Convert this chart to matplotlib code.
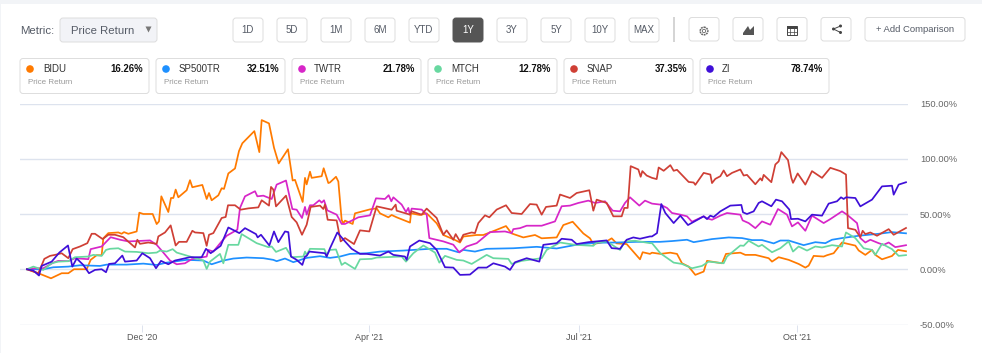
#!/usr/bin/env python
"""
Total return comparison, one year
"""
import matplotlib
matplotlib.use("Agg")
import matplotlib.pyplot as plt
from matplotlib.patches import FancyBboxPatch, Rectangle, Circle, Polygon

plt.rcParams['font.family'] = ['Liberation Sans', 'DejaVu Sans']

# x is trading sessions since the start of the window, y is price return in %
bidu_x = [0, 3.9, 7.2, 10.4, 12.4, 14.1, 17.9, 19.1, 20.9, 22.4, 22.9, 24.4, 27.4, 28.4, 29.1, 30.4, 32.9, 33.7, 34.9, 37.7,
          38.9, 39.6, 40.3, 42.4, 43.2, 43.9, 44.6, 45.4, 47.9, 48.9, 49.6, 52.6, 53.9, 54.6, 55.4, 57.4, 58.4, 59.1, 60.4, 62.4,
          63.6, 64.6, 68.2, 69.7, 70.4, 72.6, 74.1, 75.5, 78.3, 79.7, 80.4, 82.7, 83.4, 83.9, 84.9, 85.4, 88.4, 89, 90.4, 90.9,
          92.7, 93.4, 94.4, 94.9, 95.4, 97.7, 98.4, 102.9, 104.9, 105.9, 108.4, 109.4, 110.9, 114.9, 115.2, 117.9, 119.9, 122.9,
          124.9, 128.4, 129.9, 130.9, 134.9, 136.9, 139.9, 143.7, 145.4, 148.9, 152.4, 154.4, 158.9, 160.9, 163.7, 166.9, 168.9,
          169.9, 173.9, 175.4, 176.9, 179.9, 183.9, 184.7, 186.9, 187.5, 190, 193, 195, 196.5, 198.5, 200.5, 203, 204, 208.5,
          209.7, 214, 215.5, 218.5, 222.5, 223.5, 225.5, 228.5, 231.5, 233.5, 234.5, 236, 239, 240, 242, 244.5, 248.5, 249.5,
          251.5, 253.5, 254.5, 256.5, 259.5, 261.3, 263.7]
bidu_y = [0, -4.2, -8.2, -3.6, -3.6, 0, 0, 8.5, 12.7, 12.7, 28, 32.7, 33.3, 32.1, 33.6, 32.1, 34.2, 51.2, 50, 50,
          40.9, 43.3, 66, 51.8, 64.5, 64.5, 72.1, 65.1, 71.5, 80.6, 74.2, 76.3, 63.6, 69, 62.4, 66.9, 73.3, 72.7, 86.7, 91.2,
          107, 114, 125, 106, 135, 132, 110, 95.8, 108.6, 80.3, 80.9, 60.9, 82.7, 76.8, 88.3, 82.7, 84.2, 91.4, 78, 78.6,
          83.7, 79.4, 44.6, 41.6, 44, 41, 50.6, 54.2, 55.1, 50.6, 47, 49.1, 47, 42.2, 50.6, 49.1, 50.6, 41.6,
          31, 26.5, 24.2, 29.6, 31, 31, 34.5, 39.1, 32.4, 28.8, 31, 28, 28.8, 40, 43, 32.4, 28,
          22.8, 25.2, 28, 23.4, 22.8, 9, 15.4, 13.9, 15, 13.9, 15, 13.9, 5.4, 2.4, -5.1, -2.1, 7.6, 5.4,
          13.9, 15, 13, 13, 10, 6.9, 10.9, 8.5, 4.8, 1.5, 3.3, 12.1, 11.5, 12.7, 14.5, 24.2, 21.4, 17,
          13, 17.5, 13, 9, 12, 17.5, 16.26]

sp500_x = [0, 4.9, 7.9, 12.4, 15.9, 21.9, 23.9, 29.9, 34.9, 38.9, 41.9, 47.9, 52.9, 55.4, 58.9, 61.9, 65.9, 70.9, 73.9, 74.9,
           77.4, 79.9, 83.9, 87.9, 90.9, 93.9, 96.9, 101.9, 105.9, 112.9, 120.9, 125.9, 129.4, 130.9, 134.4, 137.9, 145.9, 152.9,
           158.9, 164.9, 170.9, 176.9, 182.9, 189.9, 193.5, 198, 200, 205.5, 210.5, 214.5, 217.5, 220.5, 224, 226, 228.5, 233,
           236.5, 239.5, 241.5, 244.5, 249.5, 255.5, 259.5, 263.7]
sp500_y = [0, 0, 1.8, 2.4, 3.6, 3, 4.2, 4.2, 5.1, 3.9, 6, 8.5, 7.9, 4.5, 7.9, 9.7, 10.6, 10, 8.5, 7.3,
           9.7, 6.4, 10.3, 11.8, 10.3, 11.5, 13.9, 14.5, 16, 16.9, 18.5, 18.5, 15.4, 17.5, 16, 18.5, 19, 20.3,
           18.8, 22.2, 24, 24.2, 24.8, 24.8, 25.5, 26.7, 24.5, 27.3, 28.8, 28.2, 26.4, 26.4, 23.4, 26, 26, 21.8,
           24.5, 23.6, 26.7, 28.2, 30.3, 32.1, 33.6, 32.51]

twtr_x = [0, 2.4, 4.9, 7.9, 9.4, 12.4, 14.4, 18.4, 19.1, 22.4, 23.9, 25.1, 27.9, 30.4, 32.9, 36.9, 38.9, 40.9, 42.9, 44.9,
          47.4, 49.4, 52.9, 53.9, 54.4, 55.9, 58.4, 59.9, 63.1, 63.9, 65.4, 68.4, 69.1, 70.9, 73.4, 74.9, 77.7, 79.6, 80.9, 82.5,
          83.4, 83.9, 84.9, 85.9, 87.7, 88.4, 89.1, 90.1, 92.9, 94.4, 95.4, 99.4, 102.9, 104.7, 107.4, 108.5, 109.3, 109.9, 112.4,
          113.7, 114.4, 114.9, 115.4, 118.4, 119.9, 120.7, 124.9, 127.9, 129.7, 131.9, 134.9, 138.9, 143.4, 145.4, 145.9, 147.9,
          149.9, 154.4, 158.4, 160.4, 162.9, 165.4, 168.4, 170.4, 173.4, 175.7, 177.9, 179.4, 180.9, 183.7, 185.4, 187.5, 190, 192,
          193.5, 196, 198, 199.5, 203, 204, 205.5, 208, 210, 214, 214.7, 216.5, 218.5, 220.5, 223, 225.3, 228, 229.5, 231.3,
          233.5, 235.5, 239, 241, 244.5, 246, 249, 250, 251.5, 253, 255.5, 257, 258.5, 260.5, 263.7]
twtr_y = [0, 0.9, 0.9, 6, 7.6, 7.3, 10, 9.1, 18.2, 20.6, 25.2, 29, 26.7, 25.2, 25.5, 26.1, 22.1, 15.1, 7.9, 4.5,
          5.4, 9.1, 10.9, 11.5, 17.5, 16, 25.2, 30.3, 35.8, 55.5, 66, 70.6, 66, 66.6, 63.6, 76.6, 80.3, 54.5, 53.9, 46.4,
          56.4, 49.4, 57.9, 57.9, 62.4, 60.3, 62.4, 53.3, 49.4, 41, 41, 47, 48.8, 64.2, 63.6, 67, 61.5, 65.1, 58.5,
          51.8, 55.5, 49.4, 54.9, 54, 49.4, 28.2, 25.2, 22.2, 15.2, 20.6, 23.6, 33.6, 34.2, 32.7, 36.3, 37.2,
          39.4, 39.4, 43.3, 57, 57.6, 60, 62.1, 60, 61.5, 53, 52.4, 60, 65.1, 57.6, 62.1, 59.4, 58.5, 55.5,
          50.9, 49.4, 47.9, 43, 47.9, 46, 44.8, 48.5, 50.9, 49.4, 44.2, 41.8, 37.2, 43.3, 40.3, 54.5, 49.4, 38.8, 42.4,
          34.8, 48.5, 41.8, 45.4, 52.4, 49.4, 41.8, 28.2, 24.2, 26.7, 23.6, 22.1, 24.2, 20, 21.78]

mtch_x = [0, 1.9, 4.9, 7.4, 9.4, 12.4, 14.4, 18.4, 19.9, 22.4, 23.7, 24.9, 27.4, 29.4, 32.9, 36.4, 38.9, 39.9, 41.9, 43.7,
          44.9, 48.9, 52.9, 53.9, 54.9, 57.9, 58.9, 60.4, 63.4, 64.4, 68.9, 72.4, 73.4, 74.7, 77.7, 79.4, 82.9, 83.4, 83.9, 84.9,
          89.2, 89.9, 90.9, 92.7, 94.4, 95.4, 98.4, 99.9, 103.4, 104.9, 112.4, 113.7, 115.9, 118.9, 122.4, 123.7, 125.4, 128.9,
          130.9, 133.4, 137.9, 139.9, 144.4, 145.4, 148.4, 154.4, 155.9, 159.9, 164.4, 169.9, 170.9, 173.9, 177.9, 179.4, 182.4,
          186.9, 187.5, 190, 194, 196.5, 199.5, 202.5, 204.5, 209, 210, 214, 215, 216.5, 219.5, 220.5, 223.5, 226, 228.5, 229.8,
          231.5, 234, 236.5, 238.5, 241.5, 244.5, 245.7, 248.5, 251, 253.5, 254.5, 256.5, 259.5, 261.5, 263.7]
mtch_y = [0, 2.4, -0.6, 5.4, 6.9, 7.3, 10.9, 11.5, 13, 12.1, 17.5, 18.5, 19, 16, 15.7, 14.5, 15.1, 16.9, 16, 18.2,
          15.1, 11.5, 7.9, 0.3, 6.9, 13.9, 5.4, 22.1, 22.1, 31.8, 23.6, 20, 20.6, 15.7, 19.4, 10.9, 11.5, 16, 13, 18.5,
          18.2, 13, 17.5, 17.9, 3.9, 6, 0.3, 9, 9.4, 10.6, 11.5, 6.9, 14.5, 21.5, 15.1, 6, 12.1, 8.5,
          7.9, 4.8, 13, 10, 9.4, 4.8, 7.6, 10, 17.5, 24.2, 22.1, 21.2, 24.2, 25.2, 17.5, 25.2, 25.8,
          23.6, 23.6, 14.5, 6, 4.8, 0.9, 3, 6.9, 5.4, 11.5, 21.5, 21.2, 25.8, 20.6, 22.1, 15.4, 19, 25.2, 16,
          20.6, 16.9, 20.6, 19.7, 21.8, 20.6, 33.3, 28.2, 19, 17.5, 13, 23, 18.2, 12.1, 12.78]

snap_x = [0, 3.4, 5.2, 6.9, 8.4, 10.4, 12.4, 13.7, 15.9, 18.1, 19.4, 20.4, 22.7, 24.4, 26.4, 28.9, 32.4, 33.1, 33.9, 36.4,
          38.9, 39.4, 41.4, 43.1, 44.6, 45.6, 47.9, 49.6, 50.4, 52.9, 53.9, 54.6, 55.9, 58.4, 59.6, 60.3, 62.4, 64.1, 66.4, 69.4,
          70.4, 72.6, 73.2, 73.9, 74.7, 77.7, 79.4, 80.9, 82.5, 83.9, 85.1, 87.9, 88.9, 89.4, 90.2, 92.9, 94.1, 95.4, 98.1, 99.9,
          102.7, 104.9, 109.4, 110.6, 110.9, 114.9, 115.4, 118.4, 119.9, 122.9, 124.9, 125.9, 127.9, 128.6, 129.9, 130.9, 133.4,
          134.4, 135.4, 137.4, 138.7, 140.9, 143.7, 145.4, 148.4, 150.9, 152.9, 154.4, 155.7, 158.9, 159.9, 162.9, 164.9, 168.7,
          169.9, 170.9, 173.9, 175.9, 178.4, 179.2, 180.2, 181.1, 183.4, 184.1, 184.6, 185.9, 187.5, 188.9, 189.5, 191, 193, 194,
          195, 198.5, 200, 200.5, 203, 205, 205.5, 206.5, 208, 209, 210, 211.5, 214, 215, 216, 218.5, 220, 220.5, 221, 223.3,
          224.5, 225.5, 226.3, 228.3, 229.3, 229.8, 231.2, 233.5, 235.5, 238.5, 241, 244, 245.7, 246.3, 248.5, 250, 250.7, 251.5,
          253, 255, 258.5, 260, 263.7]
snap_y = [0, -3.6, 9.4, 12.1, 13, 14.5, 10, 18.2, 20.6, 23.6, 32.1, 32.1, 27.3, 31.2, 31.2, 29, 19.7, 26.7, 23, 24.2,
          23, 29.7, 33.3, 39.7, 21.5, 24.8, 24.8, 34.8, 33.3, 32.7, 21.2, 31.2, 32.7, 46.4, 47.3, 57.9, 57.9, 53.9, 55.1, 56,
          62.4, 57.6, 74.5, 72.1, 56.9, 66.6, 47.3, 42.4, 31.2, 40.3, 56.4, 57.6, 54.5, 58.5, 44.8, 44.2, 25.2, 28.2, 22.8, 35.2,
          34.2, 56.9, 53.9, 58.5, 53, 49.4, 52.4, 49.4, 54.9, 46.4, 31.2, 35.2, 26.7, 31.8, 25.2, 31.2, 33.3,
          32.7, 41.8, 48.8, 47, 54, 57.9, 50.9, 50, 59, 58.5, 49.4, 56.4, 57.6, 67.6, 64.5, 69, 71.5,
          53, 63, 60, 47.9, 47.9, 55.5, 55.5, 93.3, 90.3, 83.7, 88.8, 84.8, 82.7, 81.6, 92.1, 89.1, 94.2, 89.1,
          90, 79, 78.5, 76.4, 87.2, 85.7, 78, 81.8, 84.2, 89.4, 84.2, 87.2, 90.3, 84.8, 85.4, 76.9, 82.3, 80.3, 85.4, 78.8,
          94.8, 97.6, 106, 98.8, 82.7, 78.2, 86.7, 76.6, 88.8, 82.7, 91.8, 88.8, 85.7, 37.2, 35.7, 29, 34.8, 31.8,
          33.3, 30.3, 36.3, 31.2, 37.35]

zi_x = [0, 1.9, 3.6, 4.4, 7.4, 9.7, 12.3, 13.6, 14.9, 16.9, 18.6, 20.4, 22.4, 23.7, 24.6, 26.4, 28.6, 29.4, 32.9, 34.6,
        36.9, 38.7, 40.2, 42.4, 44.4, 48.9, 52.4, 53.7, 55.1, 58.1, 60.4, 63.7, 65.4, 68.7, 69.2, 70.2, 72.7, 74.1, 75.4, 77.4,
        78.4, 79.2, 80.9, 82.6, 83.4, 83.9, 84.7, 89.4, 89.9, 90.9, 93.1, 95.4, 97.4, 99.9, 101.9, 105.9, 108.4, 109.9, 113.4,
        113.9, 114.9, 117.7, 120.9, 122.9, 125.4, 127.9, 129.9, 132.9, 135.4, 137.9, 139.9, 143.4, 144.9, 146.4, 149.9, 153.7,
        154.9, 158.9, 160.4, 163.4, 164.9, 168.4, 170.9, 173.9, 175.4, 177.9, 179.9, 181.9, 183.9, 186.9, 187.5, 189, 190.3,
        191.5, 194, 196, 198.3, 203, 204, 205, 206, 208, 211, 214.3, 214.8, 216, 218, 219.5, 220.5, 223.3, 224.7, 226.5, 228.7,
        229.2, 231.3, 233.5, 235.5, 238.5, 240.5, 243, 244.2, 245, 245.7, 248.5, 250, 253.5, 256.5, 259.5, 260, 261.5, 263.7]
zi_y = [0, -1.2, -5.7, 3, 6.9, 15.1, 21.5, 2.4, 9.7, 3.9, -3.6, -0.6, 0, -2.7, 4.8, 5.4, 12.4, 6.9, 7.9, 14.5,
        10, 0.9, 7.6, 4.5, 7.9, 10.9, 10.9, 18.5, 14.5, 21.2, 37.8, 32.7, 37.2, 31.8, 28.8, 31.2, 21.5, 34.2, 24.5, 34.2,
        33.6, 11.5, 8.5, 3.9, 11.5, 12.1, 16, 14.5, 11.5, 19, 33.3, 25.2, 18.5, 13.9, 13.9, 12.4, 16, 13, 11.5,
        8.5, 20.6, 26, 23.6, 17.5, 1.8, 1.5, -5.1, -4.8, 1.5, 1.5, 5.4, 2.4, -0.6, 6.3, 10, 6.9,
        22.1, 23.6, 27.6, 26.7, 22.8, 24.5, 25.2, 26.1, 19.1, 18.5, 26.7, 28.8, 27.6, 29.7, 29.7, 32.7, 59,
        50.9, 41.8, 48.5, 40, 47.9, 45.4, 48.5, 47.3, 52.4, 57.6, 58.2, 51.5, 50, 52.4, 60, 61.5, 57, 63, 61.5, 54,
        45.4, 45.7, 43.3, 49.4, 48.5, 59.4, 61.5, 65.1, 63.6, 65.1, 64.5, 56.9, 63, 75, 75.6, 67.5, 76.6, 78.74]

names = ["BIDU", "SP500TR", "TWTR", "MTCH", "SNAP", "ZI"]
returns = ["16.26%", "32.51%", "21.78%", "12.78%", "37.35%", "78.74%"]
colors = ["#ff7a00", "#1e90ff", "#d726c8", "#68d8a0", "#cf3f35", "#3f0fd8"]
ranges = ["1D", "5D", "1M", "6M", "YTD", "1Y", "3Y", "5Y", "10Y", "MAX"]
month_pos = [34.4, 102.7, 165.7, 231.1]
month_labels = ["Dec '20", "Apr '21", "Jul '21", "Oct '21"]
pct_ticks = [-50, 0, 50, 100, 150]

W, H = 982, 353
fig = plt.figure(figsize=(W / 100, H / 100), dpi=100, facecolor="white")

# page chrome lives in an axes measured in pixels
ui = fig.add_axes([0, 0, 1, 1])
ui.set_xlim(0, W)
ui.set_ylim(H, 0)
ui.axis("off")

TXT = "#555b66"
BORDER = "#dddddd"


def box(x0, y0, x1, y1, fc="white", ec=BORDER, r=3):
    ui.add_patch(FancyBboxPatch((x0 + r, y0 + r), x1 - x0 - 2 * r, y1 - y0 - 2 * r,
                                boxstyle="round,pad=%g,rounding_size=%g" % (r, r),
                                fc=fc, ec=ec, lw=0.7))


ui.add_patch(Rectangle((0, 0), W, 4, fc="#f2f4f7", ec="none"))
ui.add_patch(Rectangle((0, 0), 1, H, fc="#f2f4f7", ec="none"))

ui.text(20, 30.5, "Metric:", fontsize=8.2, color=TXT, va="center")
box(60, 18, 157, 42, fc="#f2f3f7")
ui.text(71, 30.5, "Price Return", fontsize=8.2, color=TXT, va="center")
ui.add_patch(Polygon([(145.5, 26.5), (151.5, 26.5), (148.5, 32.5)], fc="#777777", ec="none"))

for i, lab in enumerate(ranges):
    x0 = 233 + i * 44
    active = lab == "1Y"
    box(x0, 18, x0 + 30, 42, fc="#555555" if active else "white", ec="#555555" if active else BORDER)
    ui.text(x0 + 15, 30, lab, fontsize=7, color="white" if active else TXT, ha="center", va="center")

ui.add_patch(Rectangle((673, 17), 2, 25, fc="#d5d5d5", ec="none"))
for x0 in [689, 733, 777, 821]:
    box(x0, 17.5, x0 + 30, 41, r=3)

# gear
ui.add_patch(Circle((704, 31), 3.8, fc="none", ec="#666666", lw=1.1, ls=(0, (1.2, 0.5))))
ui.add_patch(Circle((704, 31), 1.7, fc="none", ec="#666666", lw=0.6))
# area chart icon
ui.add_patch(Polygon([(743, 35), (743, 33), (748, 26), (750, 30), (754, 26), (754, 35)], fc="#555555", ec="none"))
# table icon
ui.add_patch(Rectangle((787, 26), 10, 2.5, fc="#444444", ec="none"))
ui.add_patch(Rectangle((787, 26), 10, 9, fc="none", ec="#444444", lw=0.7))
ui.plot([790.3, 790.3], [28, 35], color="#444444", lw=0.5)
ui.plot([793.6, 793.6], [28, 35], color="#444444", lw=0.5)
ui.plot([787, 797], [31.5, 31.5], color="#444444", lw=0.5)
# share icon
ui.plot([840.5, 833.5, 840.5], [26, 29, 32.5], color="#444444", lw=0.7)
for cx, cy in [(840.5, 26), (833.5, 29), (840.5, 32.5)]:
    ui.add_patch(Circle((cx, cy), 1.5, fc="#444444", ec="none"))

box(865, 17.5, 965, 41)
ui.text(915, 29.5, "+ Add Comparison", fontsize=6.8, color=TXT, ha="center", va="center")

# legend cards
card_x = [20, 156, 292, 428, 564, 700]
name_off = [23, 23, 22, 23, 23, 22]
for i in range(6):
    x0 = card_x[i]
    box(x0, 58.5, x0 + 129, 93.5)
    ui.add_patch(Circle((x0 + 10, 69), 3.8, fc=colors[i], ec="none"))
    ui.text(x0 + name_off[i], 69.5, names[i], fontsize=7, color="#333333", va="center", fontweight="medium")
    ui.text(x0 + 123, 69.5, returns[i], fontsize=6.9, color="#111111", ha="right", va="center", fontweight="bold")
    ui.text(x0 + 8, 82.5, "Price Return", fontsize=5.8, color="#999999", va="center")

# the chart
ax = fig.add_axes([20 / W, (H - 324.5) / H, 888 / W, 221 / H])
ax.patch.set_alpha(0)
ax.set_xlim(-2.1, 264.3)
ax.set_ylim(-50, 150)
for s in ax.spines.values():
    s.set_visible(False)

series = [(bidu_x, bidu_y), (sp500_x, sp500_y), (twtr_x, twtr_y), (mtch_x, mtch_y), (snap_x, snap_y), (zi_x, zi_y)]
for (xs, ys), c in zip(series, colors):
    ax.plot(xs, ys, color=c, lw=1.25, solid_joinstyle="round", zorder=3, clip_on=False)

ax.yaxis.tick_right()
ax.set_yticks(pct_ticks)
ax.set_yticklabels(["%.2f%%" % v for v in pct_ticks])
ax.grid(axis="y", color="#dde3ee", lw=1, zorder=1)
ax.tick_params(axis="y", length=0, pad=8.5, labelsize=6.7, labelcolor="#666666")
ax.set_xticks(month_pos)
ax.set_xticklabels(month_labels)
ax.tick_params(axis="x", length=5, width=0.7, color="#dde3ee", pad=1, labelsize=6.5, labelcolor="#555555")

fig.savefig("out.png", dpi=100)
